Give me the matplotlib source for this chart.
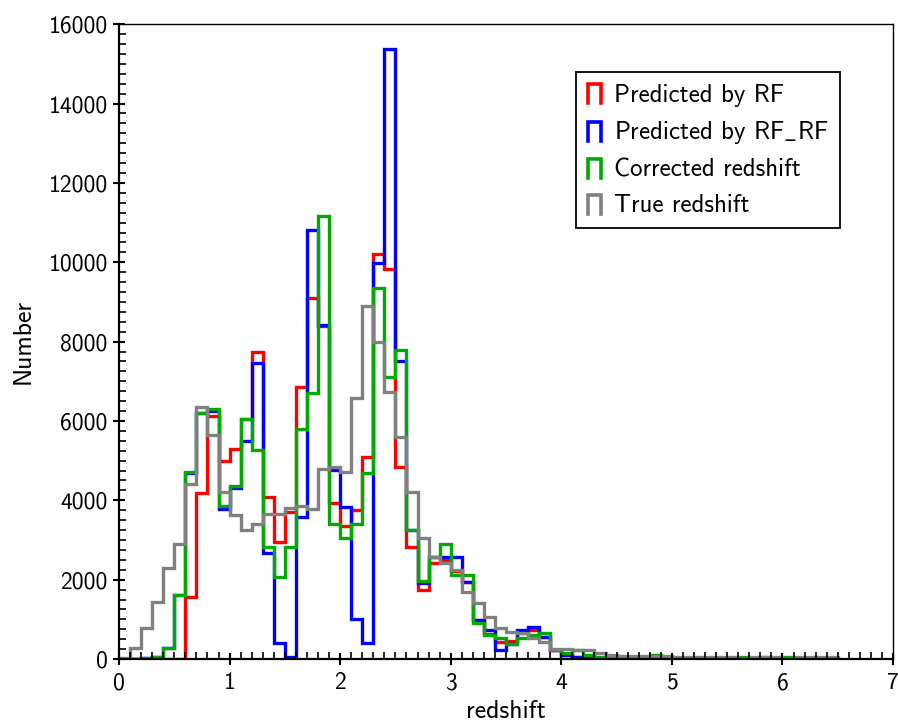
import numpy as np
import matplotlib
matplotlib.use("Agg")
import matplotlib.pyplot as plt
from matplotlib.lines import Line2D
from matplotlib.legend_handler import HandlerBase
from matplotlib.ticker import MultipleLocator

plt.rcParams["font.family"] = ["cmss10", "DejaVu Sans"]
plt.rcParams["axes.unicode_minus"] = False
plt.rcParams["mathtext.fontset"] = "cm"

# bins of width 0.1 from 0 to 6.5
bin_edges = np.round(np.arange(0, 6.51, 0.1), 2)

# counts per bin
pred_rf = [0, 0, 0, 0, 0, 0, 1570, 4190, 6120, 4990,
           5290, 6060, 7740, 4090, 2960, 3710, 6860, 9100, 8400, 3940,
           3360, 3750, 5100, 10220, 9820, 4850, 2830, 1740, 2410, 2490,
           2230, 1950, 980, 640, 430, 450, 650, 730, 560, 230,
           100, 60, 40, 30, 20, 20, 20, 10, 10, 0,
           0, 0, 0, 0, 0, 0, 0, 0, 0, 0,
           0, 0, 0, 0, 0]
pred_rf_rf = [0, 0, 20, 60, 270, 1610, 4700, 6200, 6260, 3780,
              4300, 5490, 7450, 2660, 400, 60, 3590, 10810, 8420, 4760,
              3820, 1000, 410, 9970, 15380, 7510, 3250, 1920, 2570, 2570,
              2560, 1950, 980, 730, 230, 380, 730, 815, 560, 230,
              100, 60, 40, 30, 20, 20, 20, 10, 10, 0,
              0, 0, 0, 0, 0, 0, 0, 0, 0, 0,
              0, 0, 0, 0, 0]
corrected = [0, 0, 20, 60, 270, 1610, 4720, 6200, 6300, 3860,
             4360, 6050, 5270, 2830, 2070, 2830, 5810, 6700, 11170, 3400,
             3040, 3400, 4680, 9360, 7110, 7790, 3250, 1970, 2580, 2900,
             2120, 2120, 900, 610, 520, 380, 520, 610, 650, 230,
             150, 230, 100, 60, 70, 60, 50, 40, 90, 30,
             30, 30, 30, 30, 30, 30, 50, 20, 40, 10,
             40, 10, 0, 0, 0]
true_z = [30, 290, 770, 1440, 2290, 2910, 4400, 6360, 5650, 4220,
          3630, 3250, 3400, 3650, 3650, 3810, 3860, 3770, 4780, 4830,
          4720, 6570, 8900, 8000, 6740, 5590, 4220, 3040, 2580, 2410,
          2240, 1700, 1420, 1070, 770, 690, 650, 520, 440, 240,
          250, 230, 220, 140, 90, 80, 80, 70, 70, 70,
          60, 60, 60, 50, 50, 50, 0, 50, 50, 50,
          0, 40, 40, 40, 40]

series = [
    (pred_rf, "#ff0000", "Predicted by RF"),
    (pred_rf_rf, "#0000ff", r"Predicted by RF$\_$RF"),
    (corrected, "#00aa00", "Corrected redshift"),
    (true_z, "#808080", "True redshift"),
]


class PiHandler(HandlerBase):
    """Legend key drawn as an open-bottom step outline."""
    def create_artists(self, legend, orig_handle, xdescent, ydescent,
                       width, height, fontsize, trans):
        x0 = -xdescent + 0.1 * width
        x1 = -xdescent + 1.1 * width
        y0 = -ydescent - 0.1 * height
        y1 = -ydescent + 1.0 * height
        line = Line2D([x0, x0, x1, x1], [y0, y1, y1, y0],
                      color=orig_handle.get_color(), lw=2.6,
                      solid_joinstyle="miter", transform=trans)
        return [line]


fig = plt.figure(figsize=(8.98, 7.23), dpi=100)
ax = fig.add_axes([0.1325, 0.0885, 0.862, 0.878])

handles = []
for values, color, label in series:
    ax.stairs(values, bin_edges, color=color, lw=2.4, baseline=0)
    handles.append(Line2D([], [], color=color, label=label))

ax.set_xlim(0, 7)
ax.set_ylim(0, 16000)
ax.xaxis.set_major_locator(MultipleLocator(1))
ax.xaxis.set_minor_locator(MultipleLocator(0.1))
ax.yaxis.set_major_locator(MultipleLocator(2000))
ax.yaxis.set_minor_locator(MultipleLocator(250))
ax.tick_params(which="major", direction="inout", length=9, width=1.5,
               labelsize=17, top=False, right=False)
ax.tick_params(which="minor", direction="in", length=5, width=1.2,
               top=False, right=False)
ax.tick_params(axis="x", which="major", pad=5)
for side in ["left", "bottom"]:
    ax.spines[side].set_linewidth(1.6)
for side in ["top", "right"]:
    ax.spines[side].set_linewidth(1.0)

ax.set_xlabel("redshift", fontsize=18.5, labelpad=4)
ax.set_ylabel("Number", fontsize=18.5, labelpad=10)

leg = ax.legend(handles=handles, loc="upper right",
                bbox_to_anchor=(0.9315, 0.924), fontsize=18,
                handler_map={Line2D: PiHandler()},
                handlelength=0.5, handletextpad=0.6, labelspacing=0.5,
                borderpad=0.45, borderaxespad=0, fancybox=False, framealpha=1)
leg.get_frame().set_edgecolor("black")
leg.get_frame().set_linewidth(1.3)

fig.savefig("out.png", dpi=100)
